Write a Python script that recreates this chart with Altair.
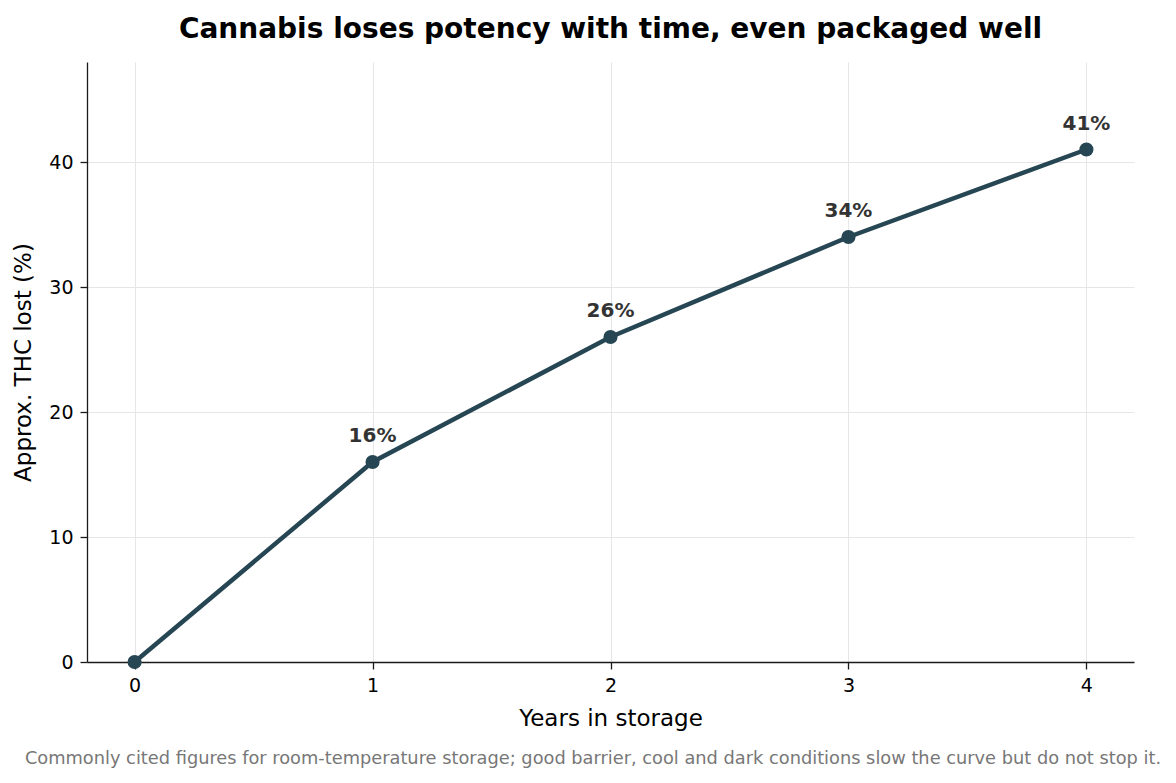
import altair as alt
import pandas as pd

years = [0, 1, 2, 3, 4]
thc_lost = [0, 16, 26, 34, 41]
labels = ["", "16%", "26%", "34%", "41%"]

df = pd.DataFrame({"year": years, "lost": thc_lost, "label": labels})

FONT = "DejaVu Sans"
COLOR = "#264653"

x = alt.X("year:Q", scale=alt.Scale(domain=[-0.2, 4.2], nice=False, zero=False),
          axis=alt.Axis(values=[0, 1, 2, 3, 4], format="d", title="Years in storage"))
y = alt.Y("lost:Q", scale=alt.Scale(domain=[0, 48], nice=False),
          axis=alt.Axis(values=[0, 10, 20, 30, 40], format="d", title="Approx. THC lost (%)"))

base = alt.Chart(df)
line = base.mark_line(color=COLOR, strokeWidth=4.5).encode(x=x, y=y)
pts = base.mark_circle(color=COLOR, size=200, opacity=1).encode(x=x, y=y)
txt = base.transform_filter("datum.label != ''").mark_text(
    font=FONT, fontSize=20, fontWeight="bold", color="#333333", dy=-20, baseline="alphabetic"
).encode(x=x, y=y, text="label:N")

foot = alt.Chart(pd.DataFrame({"t": ["Commonly cited figures for room-temperature storage; good barrier, cool and dark conditions slow the curve but do not stop it."]})).mark_text(
    font=FONT, fontSize=17.8, color="#777777", align="center", baseline="middle"
).encode(x=alt.value(506), y=alt.value(697), text="t:N")

chart = (line + pts + txt + foot).properties(
    width=1047, height=600,
    autosize=alt.AutoSizeParams(type="none"),
    padding={"left": 79, "top": 54, "right": 34, "bottom": 113},
    title=alt.Title("Cannabis loses potency with time, even packaged well",
                    font=FONT, fontSize=28, fontWeight="bold", color="#000000",
                    anchor="middle", offset=18),
).configure_view(stroke=None).configure_axis(
    labelFont=FONT, titleFont=FONT, labelFontSize=19, titleFontSize=23,
    labelColor="#000000", titleColor="#000000", titleFontWeight="normal",
    domainColor="#1a1a1a", tickColor="#1a1a1a", tickSize=7, domainWidth=1.3, tickWidth=1.3,
    gridColor="#e6e6e6", labelPadding=7,
).configure_axisX(titlePadding=12).configure_axisY(titlePadding=13)

chart.save("out.html", embed_options={"renderer": "svg", "actions": False})
